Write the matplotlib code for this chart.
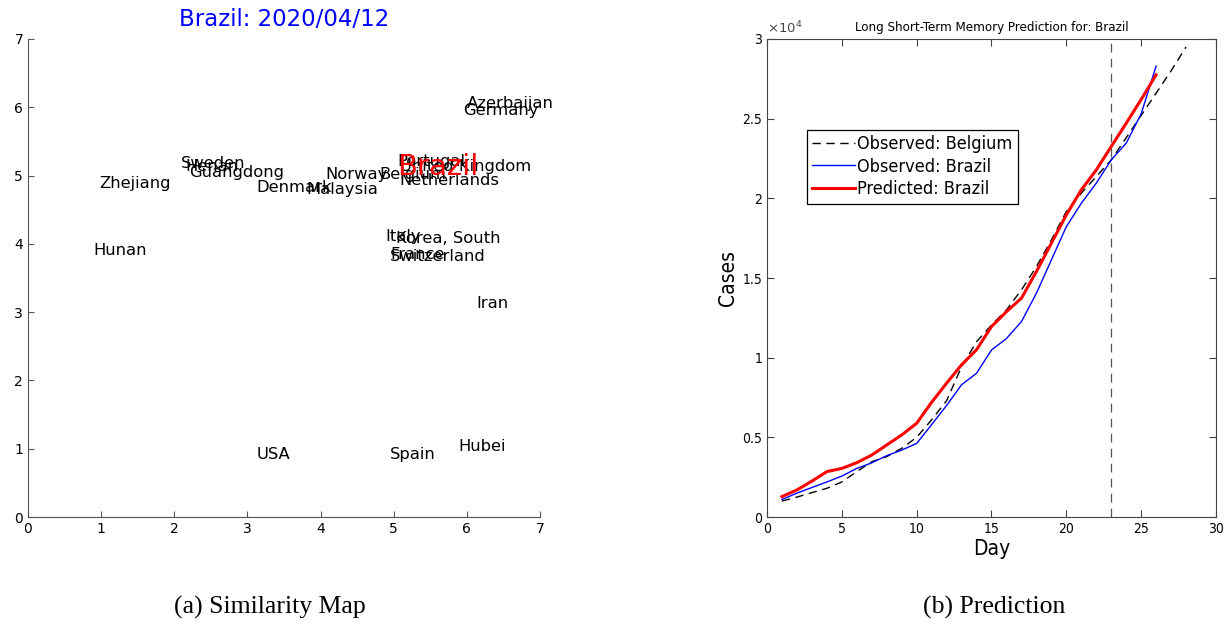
#!/usr/bin/env python3

import matplotlib
matplotlib.use('Agg')
import matplotlib.pyplot as plt
from matplotlib.ticker import FuncFormatter

# --- similarity map: country labels and their positions ---
countries = ['Zhejiang', 'Hunan', 'Sweden', 'Henan', 'Guangdong', 'Denmark',
             'Malaysia', 'Norway', 'Belgium', 'Portugal', 'United Kingdom',
             'Netherlands', 'Azerbaijan', 'Germany', 'Italy', 'Korea, South',
             'France', 'Switzerland', 'Iran', 'USA', 'Spain', 'Hubei']
map_x = [0.98, 0.90, 2.09, 2.15, 2.20, 3.12, 3.80, 4.06, 4.81, 5.05, 5.08,
         5.07, 6.00, 5.95, 4.89, 5.03, 4.96, 4.94, 6.13, 3.12, 4.94, 5.89]
map_y = [4.88, 3.90, 5.18, 5.13, 5.04, 4.82, 4.80, 5.01, 5.01, 5.20, 5.13,
         4.93, 6.05, 5.95, 4.11, 4.08, 3.85, 3.81, 3.13, 0.91, 0.91, 1.03]
target = 'Brazil'
target_xy = (5.05, 5.13)
map_title = 'Brazil: 2020/04/12'

# --- prediction curves (cases) ---
days_belgium = list(range(1, 29))
obs_belgium = [1000, 1250, 1530, 1800, 2200, 2850, 3470, 3790, 4310, 5000,
               6100, 7300, 9430, 11000, 12050, 13000, 14250, 15710, 17390,
               19170, 20320, 21360, 22410, 23800, 25200, 26600, 28000, 29500]
days_brazil = list(range(1, 27))
obs_brazil = [1100, 1500, 1850, 2200, 2570, 3050, 3400, 3850, 4200, 4620,
              5800, 7000, 8300, 9020, 10480, 11200, 12260, 14040, 16130,
              18220, 19690, 20950, 22410, 23460, 25300, 28300]
pred_brazil = [1280, 1700, 2250, 2850, 3050, 3410, 3890, 4520, 5150, 5880,
               7200, 8400, 9550, 10500, 11950, 12890, 13730, 15400, 17180,
               18960, 20530, 21780, 23250, 24710, 26200, 27750]
split_day = 23


def main():
    fig = plt.figure(figsize=(12.28, 6.26), dpi=100)

    # left panel
    ax1 = fig.add_axes([0.0228, 0.1741, 0.417, 0.7636])
    ax1.set_xlim(0, 7)
    ax1.set_ylim(0, 7)
    for s in ['top', 'right']:
        ax1.spines[s].set_visible(False)
    for s in ['left', 'bottom']:
        ax1.spines[s].set_color('#555555')
    ax1.tick_params(direction='in', length=4, color='#555555', labelsize=10)
    for name, x, y in zip(countries, map_x, map_y):
        ax1.text(x, y, name, fontsize=11.8, ha='left', va='center')
    ax1.text(target_xy[0], target_xy[1], target, fontsize=21, color='red',
             ha='left', va='center')
    ax1.set_title(map_title, color='blue', fontsize=16.5, pad=9)

    # right panel (narrow font look)
    cond = dict(family='DejaVu Sans', stretch='condensed')
    ax2 = fig.add_axes([0.6246, 0.1741, 0.3656, 0.7636])
    ax2.plot(days_belgium, obs_belgium, 'k--', lw=1.0, dashes=(6, 4),
             label='Observed: Belgium')
    ax2.plot(days_brazil, obs_brazil, color='blue', lw=1.0,
             label='Observed: Brazil')
    ax2.plot(days_brazil, pred_brazil, color='red', lw=2.2,
             label='Predicted: Brazil')
    ax2.axvline(split_day, color='#555555', lw=0.9, ls=(0, (7, 5)))
    ax2.set_xlim(0, 30)
    ax2.set_ylim(0, 30000)
    ax2.set_xticks(range(0, 31, 5))
    ax2.set_yticks([i * 5000 for i in range(7)])
    ax2.yaxis.set_major_formatter(FuncFormatter(lambda v, p: '%g' % (v / 1e4)))
    ax2.tick_params(direction='in', length=5, top=True, right=True,
                    color='#444444', labelsize=10)
    for lab in ax2.get_xticklabels() + ax2.get_yticklabels():
        lab.set_fontstretch('condensed')
    for s in ax2.spines.values():
        s.set_color('#444444')
    ax2.text(0.0, 1.005, r'$\times10^4$', transform=ax2.transAxes,
             fontsize=9.5, color='#444444', va='bottom', ha='left')
    ax2.set_title('Long Short-Term Memory Prediction for: Brazil',
                  fontsize=9.5, pad=6, **cond)
    ax2.set_xlabel('Day', fontsize=15, labelpad=2, **cond)
    ax2.set_ylabel('Cases', fontsize=15, labelpad=3, **cond)
    leg = ax2.legend(loc='upper left', bbox_to_anchor=(0.088, 0.81),
                     prop=dict(size=13, **cond), fancybox=False,
                     edgecolor='black', framealpha=1, handlelength=2.4,
                     handletextpad=0.1, borderpad=0.3, labelspacing=0.25,
                     borderaxespad=0)
    leg.get_frame().set_linewidth(0.9)

    # captions
    fig.text(0.22, 0.03, '(a) Similarity Map', family='Liberation Serif',
             fontsize=18.5, ha='center', va='center')
    fig.text(0.81, 0.03, '(b) Prediction', family='Liberation Serif',
             fontsize=18.5, ha='center', va='center')

    fig.savefig('out.png', dpi=100)


if __name__ == "__main__":
    main()
